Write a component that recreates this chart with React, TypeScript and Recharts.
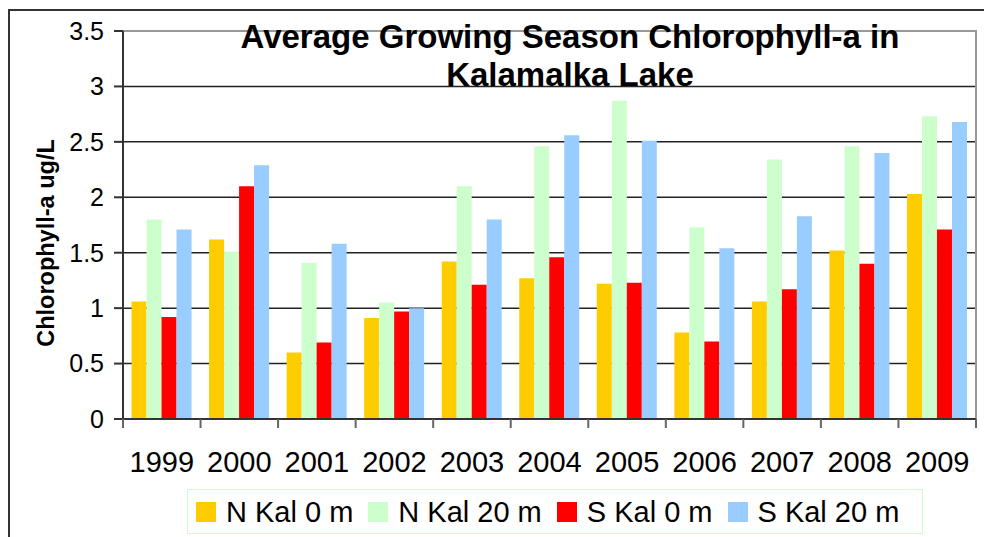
import { BarChart, Bar, XAxis, YAxis, CartesianGrid, ReferenceArea } from "recharts";

const years = ["1999", "2000", "2001", "2002", "2003", "2004", "2005", "2006", "2007", "2008", "2009"];
const nKal0 = [1.06, 1.62, 0.6, 0.91, 1.42, 1.27, 1.22, 0.78, 1.06, 1.52, 2.03];
const nKal20 = [1.8, 1.51, 1.41, 1.05, 2.1, 2.46, 2.87, 1.73, 2.34, 2.46, 2.73];
const sKal0 = [0.92, 2.1, 0.69, 0.97, 1.21, 1.46, 1.23, 0.7, 1.17, 1.4, 1.71];
const sKal20 = [1.71, 2.29, 1.58, 1.0, 1.8, 2.56, 2.51, 1.54, 1.83, 2.4, 2.68];
const yTicks = [0, 0.5, 1, 1.5, 2, 2.5, 3, 3.5];

const series = [
  { key: "nKal0", name: "N Kal 0 m", color: "#FFCC00", values: nKal0 },
  { key: "nKal20", name: "N Kal 20 m", color: "#CCFFCC", values: nKal20 },
  { key: "sKal0", name: "S Kal 0 m", color: "#FF0000", values: sKal0 },
  { key: "sKal20", name: "S Kal 20 m", color: "#99CCFF", values: sKal20 },
];

const data = years.map((year, i) => {
  const row: Record<string, string | number> = { year };
  series.forEach((s) => (row[s.key] = s.values[i]));
  return row;
});

const font = "'Liberation Sans', Arial, sans-serif";
const W = 984;
const H = 537;
const margin = { top: 31, right: 8, bottom: 0, left: 0 };
const yAxisWidth = 123;

// category ticks sit on the band edges, not the centres
function YearTick(props: any) {
  const { x, y, payload, index, visibleTicksCount } = props;
  const plotW = W - margin.right - yAxisWidth;
  const half = typeof payload?.offset === "number" && payload.offset > 0 ? payload.offset : plotW / years.length / 2;
  const last = index === (visibleTicksCount ?? years.length) - 1;
  return (
    <g>
      <line x1={x - half} x2={x - half} y1={y} y2={y + 9} stroke="#666" strokeWidth={2} />
      {last && <line x1={x + half} x2={x + half} y1={y} y2={y + 9} stroke="#666" strokeWidth={2} />}
      <text x={x} y={y + 53} textAnchor="middle" fontSize={29} fontFamily={font} fill="#000">
        {payload.value}
      </text>
    </g>
  );
}

export default function App() {
  return (
    <div style={{ position: "absolute", left: 0, top: 0, width: W, height: H, background: "#fff", fontFamily: font }}>
      <div
        style={{
          position: "absolute",
          left: 8,
          top: 9,
          width: W,
          height: H,
          borderTop: "2px solid #333",
          borderLeft: "2px solid #333",
        }}
      />
      <BarChart width={W} height={H} data={data} margin={margin} barCategoryGap="11%" barGap={0}>
        <CartesianGrid vertical={false} stroke="#222" strokeWidth={1.5} />
        <XAxis
          dataKey="year"
          height={118}
          tickLine={false}
          tickSize={0}
          tickMargin={0}
          axisLine={{ stroke: "#333", strokeWidth: 2 }}
          tick={<YearTick />}
          interval={0}
        />
        <YAxis
          width={yAxisWidth}
          domain={[0, 3.5]}
          ticks={yTicks}
          interval={0}
          tickSize={9}
          tickMargin={10}
          tickLine={{ stroke: "#333", strokeWidth: 2 }}
          axisLine={{ stroke: "#333", strokeWidth: 2 }}
          tick={{ fontSize: 25, fontFamily: font, fill: "#000" }}
        />
        <ReferenceArea y1={0} y2={3.5} fill="none" stroke="#999" strokeWidth={2} />
        {series.map((s) => (
          <Bar key={s.key} dataKey={s.key} name={s.name} fill={s.color} isAnimationActive={false} />
        ))}
      </BarChart>

      <div
        style={{
          position: "absolute",
          left: 140,
          width: 860,
          top: 18,
          textAlign: "center",
          fontWeight: "bold",
          fontSize: 33,
          lineHeight: "38px",
          color: "#000",
        }}
      >
        Average Growing Season Chlorophyll-a in
        <br />
        Kalamalka Lake
      </div>

      <div
        style={{
          position: "absolute",
          left: 46 - 150,
          top: 243 - 15,
          width: 300,
          height: 30,
          lineHeight: "30px",
          textAlign: "center",
          transform: "rotate(-90deg)",
          fontWeight: "bold",
          fontSize: 23.5,
          color: "#000",
        }}
      >
        Chlorophyll-a ug/L
      </div>

      <div
        style={{
          position: "absolute",
          left: 187,
          top: 489,
          width: 736,
          height: 45,
          border: "1px solid #CCFFCC",
          boxSizing: "border-box",
          display: "flex",
          alignItems: "center",
          paddingLeft: 8,
        }}
      >
        {series.map((s) => (
          <div key={s.key} style={{ display: "flex", alignItems: "center", marginRight: 15 }}>
            <span style={{ display: "inline-block", width: 20, height: 20, background: s.color, marginRight: 10 }} />
            <span style={{ fontSize: 29, lineHeight: "30px", color: "#000" }}>{s.name}</span>
          </div>
        ))}
      </div>
    </div>
  );
}
